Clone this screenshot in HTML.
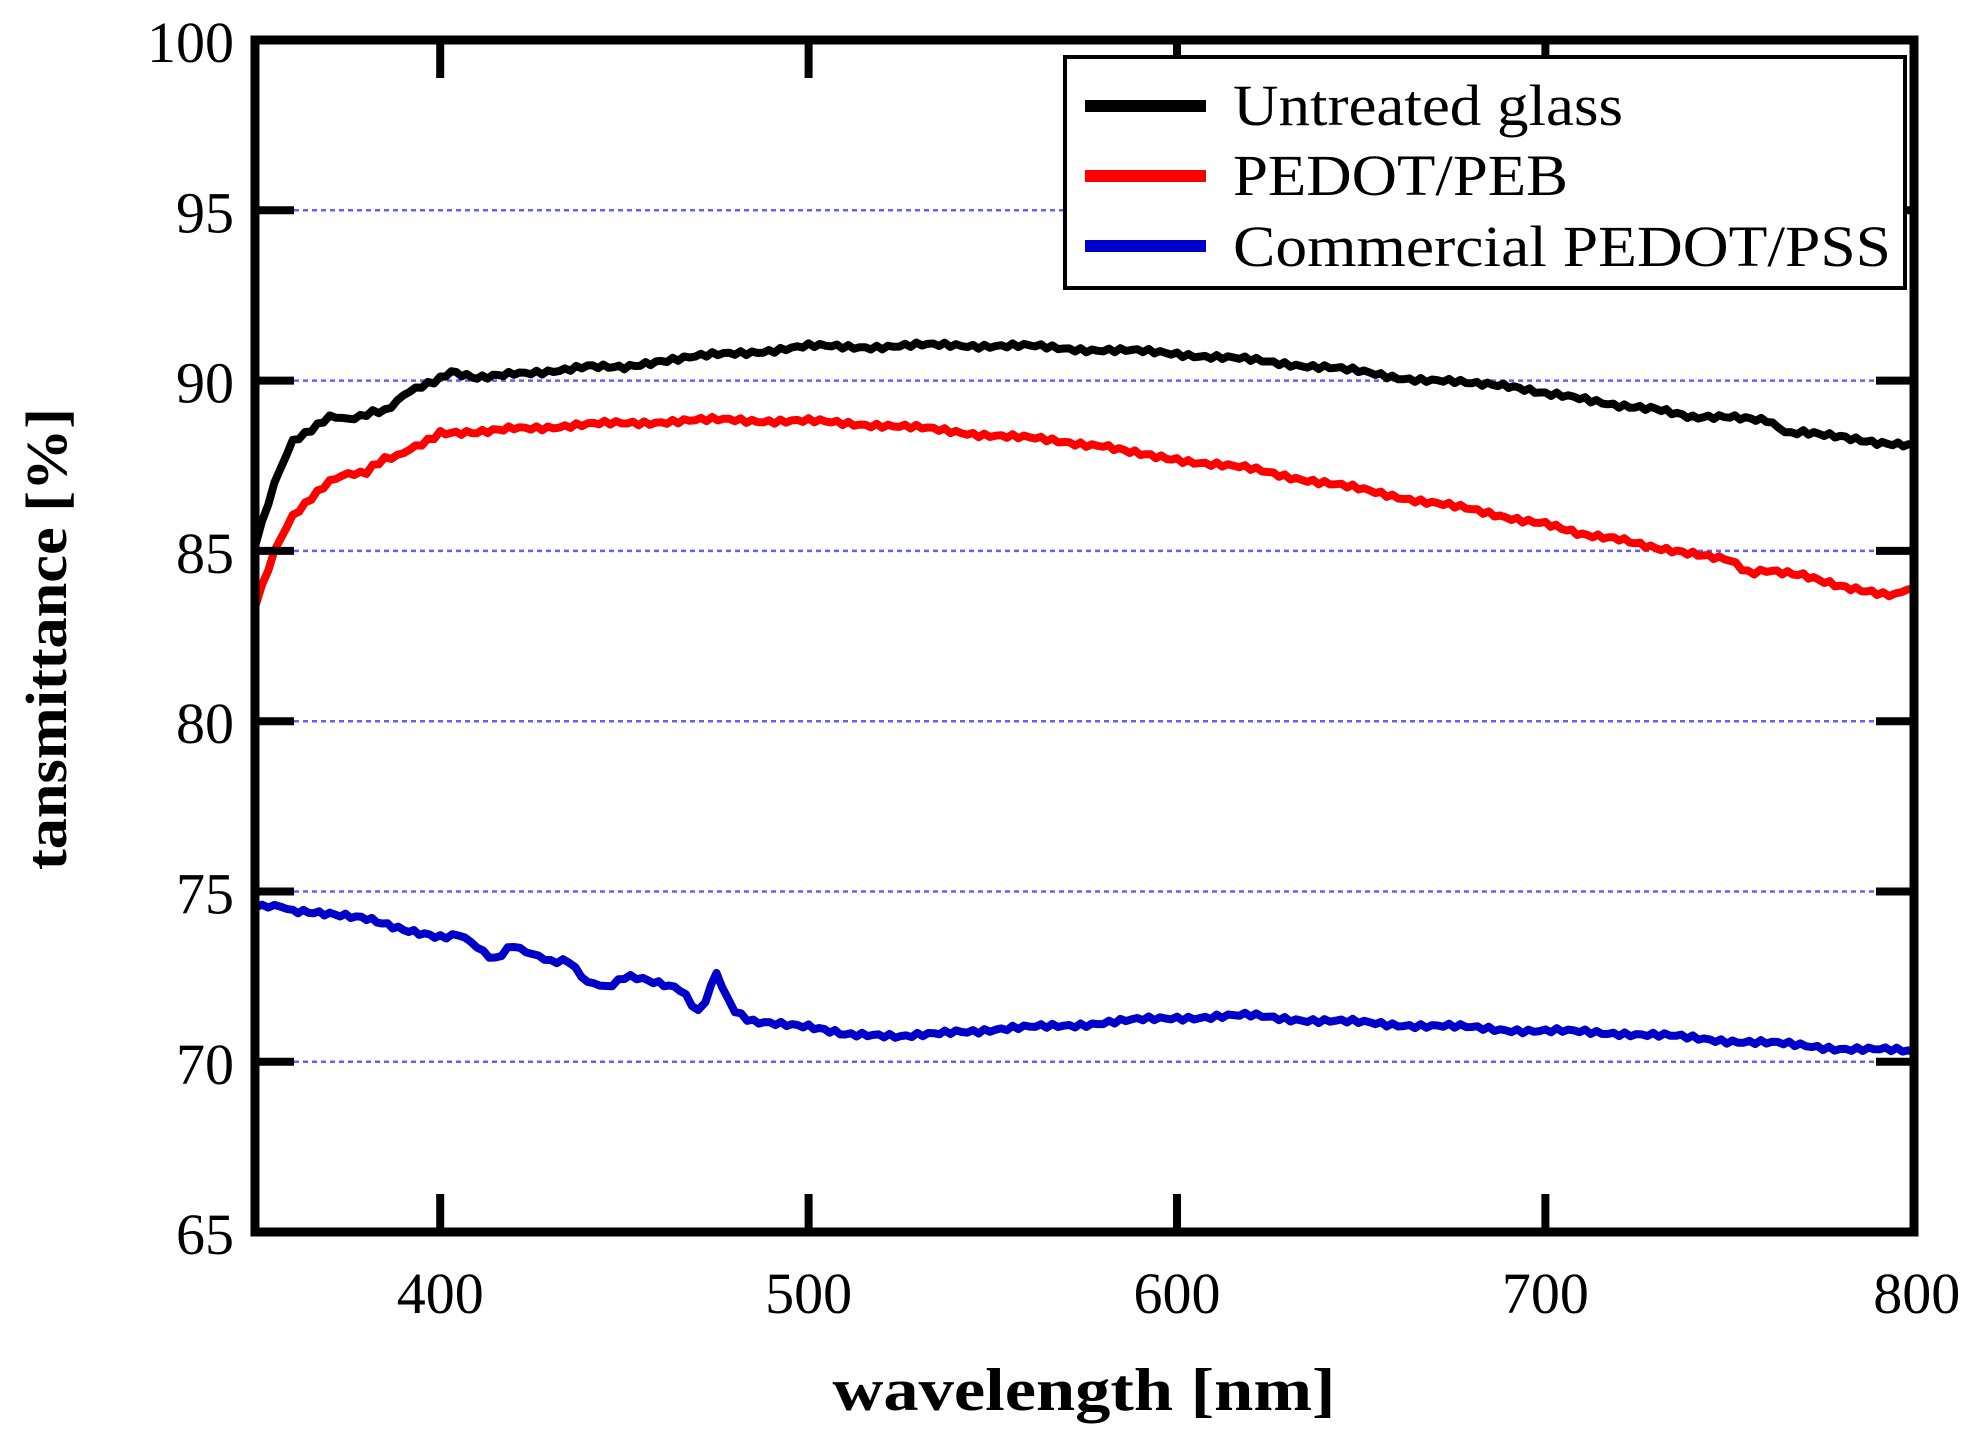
<!DOCTYPE html>
<html><head><meta charset="utf-8"><style>html,body{margin:0;padding:0;background:#fff}svg{display:block}</style></head>
<body>
<svg id="s" width="1971" height="1433" viewBox="0 0 1971 1433" xmlns="http://www.w3.org/2000/svg" font-family="'Liberation Serif', serif">
<rect width="1971" height="1433" fill="#fff"/>
<g id="grid" stroke="#6060ff" stroke-width="2.5" stroke-dasharray="5,4"></g>
<g id="series" fill="none" stroke-width="8" stroke-linejoin="round" stroke-linecap="round"></g>
<g id="ticks" stroke="#000" stroke-width="8"></g>
<rect x="255" y="40" width="1659" height="1192" fill="none" stroke="#000" stroke-width="9"/>
<g font-size="58" text-anchor="end" id="ylab"></g>
<g font-size="58" text-anchor="middle" id="xlab"></g>
<text x="1084" y="1410" font-size="60" font-weight="bold" text-anchor="middle" textLength="503" lengthAdjust="spacingAndGlyphs">wavelength [nm]</text>
<text transform="translate(66,639) rotate(-90)" font-size="58" font-weight="bold" text-anchor="middle" textLength="462" lengthAdjust="spacingAndGlyphs">tansmittance [%]</text>
<rect x="1065" y="57" width="840" height="231" fill="#fff" stroke="#000" stroke-width="4"/>
<line x1="1085" y1="106" x2="1206" y2="106" stroke="#000" stroke-width="12"/>
<line x1="1085" y1="176" x2="1206" y2="176" stroke="#f00" stroke-width="12"/>
<line x1="1085" y1="246" x2="1206" y2="246" stroke="#0000c8" stroke-width="12"/>
<g font-size="58">
<text x="1233" y="125" textLength="390" lengthAdjust="spacingAndGlyphs">Untreated glass</text>
<text x="1233" y="195" textLength="335" lengthAdjust="spacingAndGlyphs">PEDOT/PEB</text>
<text x="1233" y="266" textLength="658" lengthAdjust="spacingAndGlyphs">Commercial PEDOT/PSS</text>
</g>
</svg>
<script>
const X=l=>256+(l-350)*3.684, Y=v=>40+(100-v)*34.06, NS="http://www.w3.org/2000/svg";
function el(p,t,a,txt){const e=document.createElementNS(NS,t);for(const k in a)e.setAttribute(k,a[k]);if(txt!=null)e.textContent=txt;document.getElementById(p).appendChild(e);}
for(let v=70;v<=95;v+=5){el('grid','line',{x1:294,x2:1876,y1:Y(v),y2:Y(v)});}
for(let v=65;v<=100;v+=5){el('ylab','text',{x:234,y:Y(v)+22},v);
 if(v>65&&v<100){el('ticks','line',{x1:255,x2:294,y1:Y(v),y2:Y(v)});el('ticks','line',{x1:1876,x2:1914,y1:Y(v),y2:Y(v)});}}
for(let l=400;l<=800;l+=100){el('xlab','text',{x:X(l)+(l==800?3:0),y:1313},l);
 if(l<800){el('ticks','line',{x1:X(l),x2:X(l),y1:1194,y2:1232});el('ticks','line',{x1:X(l),x2:X(l),y1:40,y2:78});}}
function ser(d,c){let pts=[];for(let i=0;i<d.length;i+=2){const l0=d[i],v0=d[i+1];pts.push([l0,v0]);}
 let out=[];for(let i=0;i<pts.length-1;i++){const [a,b]=pts[i],[c2,d2]=pts[i+1];const n=Math.max(1,Math.round((c2-a)/1.5));
 for(let k=0;k<n;k++){const t=k/n;const l=a+(c2-a)*t;let v=b+(d2-b)*t;v+=0.06*Math.sin(l*1.7)+0.04*Math.sin(l*4.3);out.push(X(l).toFixed(1)+','+Y(v).toFixed(1));}}
 const L=pts[pts.length-1];out.push(X(L[0])+','+Y(L[1]));el('series','polyline',{points:out.join(' '),stroke:c});}
ser([350,85.3,355,87,360,88.2,365,88.6,370,88.9,375,88.9,380,89.0,385,89.1,390,89.6,395,89.8,400,90.1,403,90.3,410,90.1,420,90.2,440,90.4,450,90.4,460,90.6,480,90.8,500,91.0,520,91.0,540,91.05,560,91.0,580,90.9,600,90.8,620,90.6,640,90.4,660,90.1,680,89.9,690,89.8,700,89.6,720,89.3,730,89.2,740,88.9,750,88.9,760,88.8,765,88.5,770,88.5,780,88.4,790,88.2,800,88.1],'#000');
ser([350,83.5,355,85,360,86,365,86.6,370,87,375,87.3,380,87.3,385,87.7,390,87.9,395,88.1,400,88.5,410,88.5,420,88.6,440,88.7,460,88.8,480,88.85,500,88.8,520,88.7,540,88.5,560,88.3,580,88.1,590,87.9,600,87.7,620,87.4,640,87.0,660,86.6,680,86.2,700,85.8,710,85.5,720,85.4,730,85.1,740,84.9,750,84.7,755,84.4,760,84.4,770,84.3,780,84.0,790,83.8,795,83.7,800,83.9],'#f00');
ser([350,74.6,355,74.6,360,74.4,370,74.3,380,74.2,390,73.9,400,73.7,405,73.7,410,73.4,415,73.0,420,73.4,425,73.2,430,72.9,435,73.0,440,72.3,445,72.2,450,72.5,455,72.4,465,72.1,470,71.5,472,71.8,475,72.6,478,71.8,480,71.5,485,71.2,500,71.0,510,70.8,525,70.7,540,70.9,560,71.0,580,71.15,600,71.3,620,71.35,640,71.2,660,71.1,680,71.0,700,70.9,720,70.85,740,70.7,760,70.55,780,70.4,800,70.3],'#0000c8');
</script>
</body></html>
